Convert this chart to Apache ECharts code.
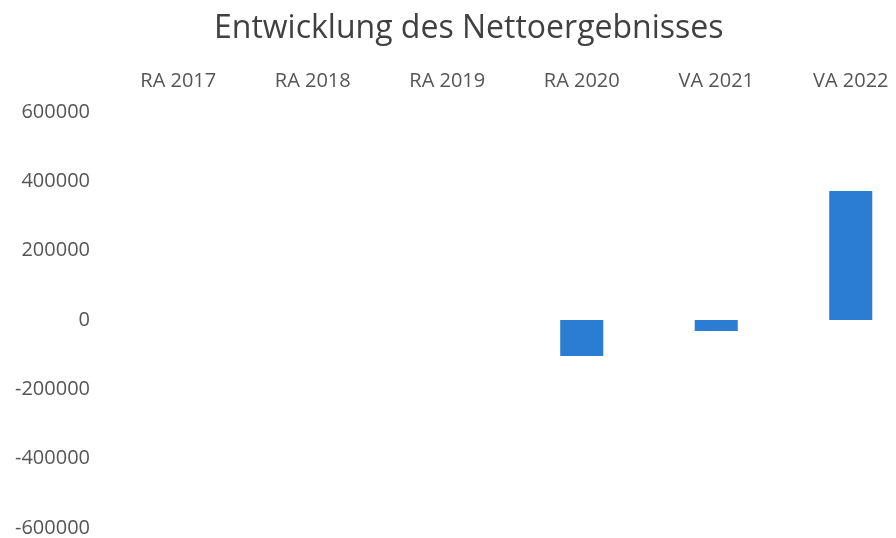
<!DOCTYPE html>
<html>
<head>
<meta charset="utf-8">
<script src="https://cdn.jsdelivr.net/npm/echarts@6/dist/echarts.min.js"></script>
<style>html,body{margin:0;padding:0;background:#fff}#c{width:896px;height:538px}</style>
</head>
<body>
<div id="c"></div>
<script>
const categories = ['RA 2017', 'RA 2018', 'RA 2019', 'RA 2020', 'VA 2021', 'VA 2022'];
const nettoergebnis = [0, 0, 0, -104000, -32000, 372000];
const yTicks = { min: -600000, max: 600000, interval: 200000 };

const chart = echarts.init(document.getElementById('c'));
chart.setOption({
  animation: false,
  backgroundColor: '#ffffff',
  title: {
    text: 'Entwicklung des Nettoergebnisses',
    left: 209,
    top: 8,
    textStyle: { fontFamily: 'Open Sans', fontSize: 32, fontWeight: 'normal', color: '#404040' }
  },
  grid: { left: 111, width: 807, top: 112, bottom: 10, containLabel: false, outerBoundsMode: 'none' },
  xAxis: {
    type: 'category',
    data: categories,
    position: 'top',
    axisLine: { show: false },
    axisTick: { show: false },
    axisLabel: { margin: 21, fontFamily: 'Open Sans', fontSize: 20, color: '#555555', interval: 0 }
  },
  yAxis: {
    type: 'value',
    min: yTicks.min,
    max: yTicks.max,
    interval: yTicks.interval,
    axisLine: { show: false },
    axisTick: { show: false },
    splitLine: { show: false },
    axisLabel: { margin: 21, fontFamily: 'Open Sans', fontSize: 20, color: '#555555', formatter: function (v) { return String(v); } }
  },
  series: [{
    type: 'bar',
    data: nettoergebnis,
    barWidth: '32%',
    itemStyle: { color: '#2B7CD3' }
  }]
});
</script>
</body>
</html>
